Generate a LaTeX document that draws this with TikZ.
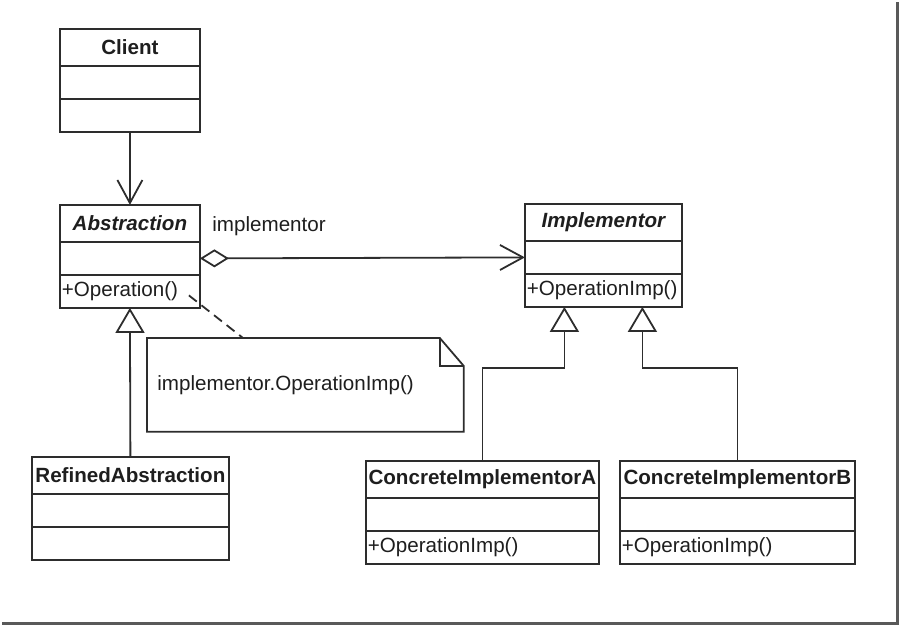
\documentclass[tikz,border=0pt]{standalone}
\usepackage{fontspec}
\setmainfont{Liberation Sans}
\usetikzlibrary{matrix,positioning,calc,arrows.meta}
\definecolor{umlline}{RGB}{45,45,45}
\definecolor{umltext}{RGB}{30,30,30}
\newcommand{\umlfont}{\fontsize{10.3}{12}\selectfont}
\tikzset{
umlclass/.style={matrix of nodes,nodes in empty cells,
nodes={draw=umlline,line width=0.9pt,text width=#1,inner xsep=1pt,inner ysep=0pt,minimum height=16.5pt,align=left,font=\umlfont,text=umltext},
row 1/.style={nodes={minimum height=18.5pt,align=center,font=\umlfont\bfseries}},
row sep=-0.9pt,inner sep=0pt,outer sep=0pt,anchor=north west,ampersand replacement=\&},
assoc/.style={draw=umlline,line width=0.9pt,-{Straight Barb[length=11.5pt,width=12.5pt]}},
aggr/.style={draw=umlline,line width=0.9pt,{Diamond[open,length=14.5pt,width=9pt]}-{Straight Barb[length=11.5pt,width=12.5pt]}},
inherit/.style={draw=umlline,line width=0.9pt,-{Triangle[open,length=12.5pt,width=14.5pt]}},
notelink/.style={draw=umlline,line width=0.9pt,dash pattern=on 5pt off 3pt},
noteline/.style={draw=umlline,line width=0.9pt,line join=miter},
notetext/.style={font=\umlfont,text=umltext,text width=148pt,inner xsep=5pt,inner ysep=0pt,minimum height=46.5pt,align=left,anchor=north west},
lbl/.style={font=\umlfont,text=umltext,inner sep=0pt},
frameline/.style={draw=black!65,line width=1.5pt}
}

\begin{document}
\begin{tikzpicture}[x=0.5pt,y=-0.5pt]
\useasboundingbox (0,0) rectangle (900,627);

% classes
\matrix[umlclass=68pt] (client) at (59,28) {Client\\ \\ \\};
\matrix[umlclass=68pt] (abs) at (59,204) {\itshape Abstraction\\ \\ +Operation()\\};
\matrix[umlclass=76.5pt] (impl) at (524,203) {\itshape Implementor\\ \\ +OperationImp()\\};
\matrix[umlclass=96.5pt] (refined) at (31,456) {RefinedAbstraction\\ \\ \\};
\matrix[umlclass=114.5pt] (cia) at (365,460) {ConcreteImplementorA\\ \\ +OperationImp()\\};
\matrix[umlclass=115.5pt] (cib) at (619,460) {ConcreteImplementorB\\ \\ +OperationImp()\\};

% note
\node[notetext] (note) at (147,338) {implementor.OperationImp()};
\draw[noteline] (note.north west) -- ($(note.north east)+(-24,0)$) -- ($(note.north east)+(0,28)$)
  -- (note.south east) -- (note.south west) -- cycle;
\draw[noteline] ($(note.north east)+(-24,0)$) -- ($(note.north east)+(-24,28)$) -- ($(note.north east)+(0,28)$);

% associations
\draw[assoc] (client-3-1.south) -- (abs-1-1.north);
\draw[aggr] (abs-2-1.east) -- (impl-2-1.west);
\node[lbl,anchor=west] (implLbl) at (212,226) {implementor};

\coordinate (opend) at ($(abs-3-1.east)+(-11,4)$);
\coordinate (notetop) at ($(note.north west)+(96,0)$);
\draw[notelink] (opend) -- (notetop);

% inheritance
\draw[inherit] (refined-1-1.north) -- (abs-3-1.south);
\coordinate (implA) at ($(impl-3-1.south)+(-39,0)$);
\coordinate (implB) at ($(impl-3-1.south)+(39,0)$);
\coordinate (kneeA) at ($(implA)+(0,61)$);
\coordinate (kneeB) at ($(implB)+(0,61)$);
\draw[inherit] (cia-1-1.north) |- (kneeA) -- (implA);
\draw[inherit] (cib-1-1.north) |- (kneeB) -- (implB);

% frame
\draw[frameline] (2,623) -- (897,623) -- (897,2);
\end{tikzpicture}
\end{document}
